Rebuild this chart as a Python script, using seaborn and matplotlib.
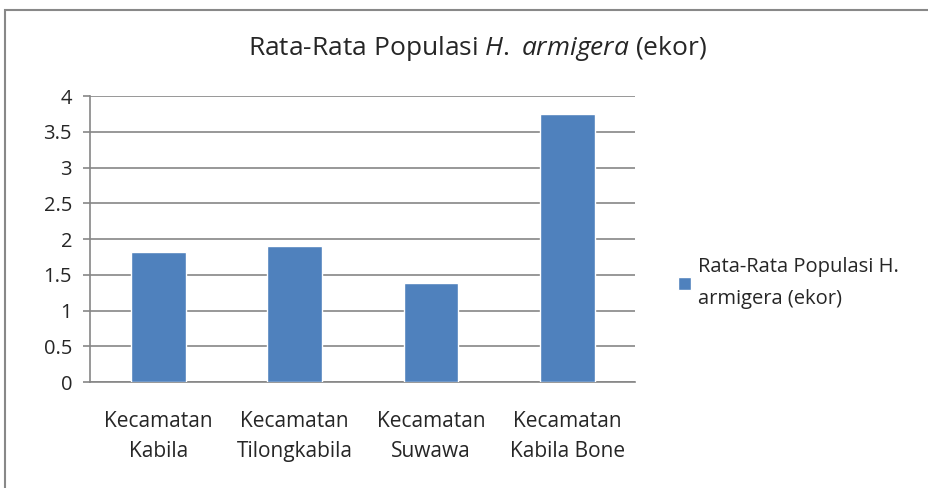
import numpy as np
import pandas as pd
import seaborn as sns
import matplotlib.pyplot as plt
from matplotlib.patches import Rectangle

kecamatan = ['Kecamatan\nKabila', 'Kecamatan\nTilongkabila', 'Kecamatan\nSuwawa', 'Kecamatan\nKabila Bone']
populasi = [1.82, 1.91, 1.39, 3.75]
y_ticks = [0, 0.5, 1, 1.5, 2, 2.5, 3, 3.5, 4]
y_labels = ['0', '0.5', '1', '1.5', '2', '2.5', '3', '3.5', '4']

sns.set_style('white')
plt.rcParams['font.family'] = ['Open Sans', 'DejaVu Sans']
plt.rcParams['mathtext.fontset'] = 'custom'
plt.rcParams['mathtext.rm'] = 'Open Sans'
plt.rcParams['mathtext.it'] = 'Open Sans:italic'

df = pd.DataFrame({'kec': kecamatan, 'pop': populasi})

fig = plt.figure(figsize=(9.29, 4.88), dpi=100)
ax = fig.add_axes([0.097, 0.217, 0.587, 0.586])

grey = '#868686'
sns.barplot(data=df, x='kec', y='pop', color='#4F81BD', width=0.4, saturation=1,
            label='Rata-Rata Populasi H.\narmigera (ekor)', ax=ax, zorder=3)

ax.set_xlim(-0.5, 3.5)
ax.set_ylim(0, 4)
ax.set_yticks(y_ticks)
ax.set_yticklabels(y_labels, fontsize=14.5)
ax.yaxis.grid(True, color=grey, linewidth=1.2, zorder=0)
ax.set_xlabel('')
ax.set_ylabel('')

ax.set_xticks(range(len(kecamatan)))
ax.set_xticklabels(kecamatan, fontsize=15, linespacing=1.55)
ax.set_xticks(np.arange(-0.5, 4, 1), minor=True)
ax.tick_params(axis='x', which='major', length=0, pad=21)
ax.tick_params(axis='x', which='minor', length=6, width=1.2, color=grey, direction='out')
ax.tick_params(axis='y', length=5, width=1.2, color=grey, direction='out', left=True, pad=8)

for s in ['top', 'right']:
    ax.spines[s].set_visible(False)
for s in ['left', 'bottom']:
    ax.spines[s].set_color(grey)
    ax.spines[s].set_linewidth(1.2)

ax.text(0.514, 0.9, r'Rata-Rata Populasi $H.$ $armigera$ (ekor)', transform=fig.transFigure,
        ha='center', va='center', fontsize=19)

ax.legend(loc='center left', bbox_to_anchor=(0.73, 0.42), bbox_transform=fig.transFigure,
          frameon=False, fontsize=14.5, handlelength=0.65, handleheight=0.65,
          handletextpad=0.35, borderaxespad=0, borderpad=0)
plt.setp(ax.get_legend().get_texts(), linespacing=1.75)

fig.patches.append(Rectangle((0.005, -0.05), 1.1, 1.03, transform=fig.transFigure,
                             fill=False, edgecolor='#888888', linewidth=1.5))

fig.savefig('out.png', dpi=100)
